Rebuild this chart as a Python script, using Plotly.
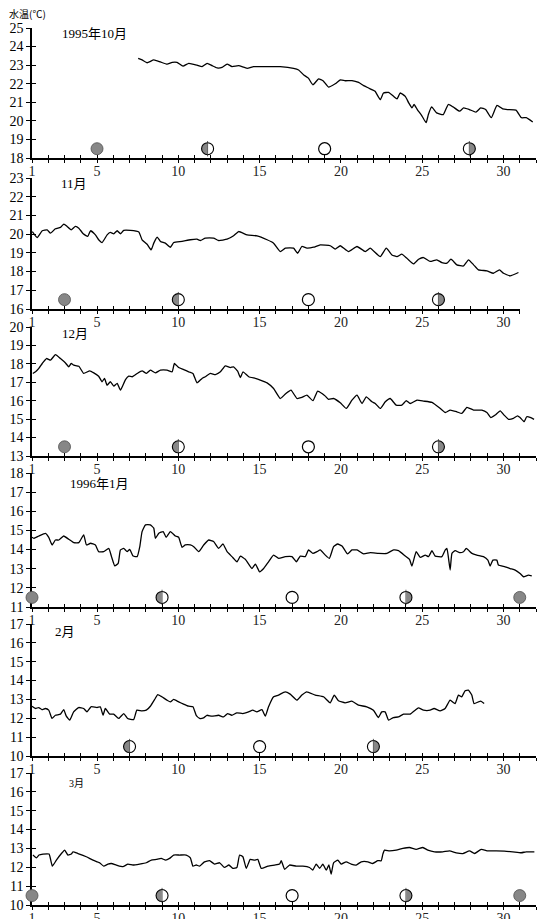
import plotly.graph_objects as go

# ---------------- data ----------------
oct_day = [7.53, 7.77, 8.08, 8.49, 8.9, 9.31, 9.62, 9.92, 10.29, 10.64,
           11.15, 11.46, 11.77, 12.08, 12.38, 12.69, 13.0, 13.3, 13.71, 14.23,
           14.63, 15.25, 16.27, 17.09, 17.4, 17.7, 18.0, 18.28, 18.63, 18.9,
           19.24, 19.65, 19.96, 20.27, 20.68, 21.09, 21.4, 21.7, 21.9, 22.1,
           22.42, 22.62, 22.93, 23.24, 23.45, 23.65, 23.96, 24.17, 24.37, 24.5,
           24.7, 24.99, 25.24, 25.38, 25.58, 25.89, 26.3, 26.6, 26.9, 27.3,
           27.55, 27.9, 28.3, 28.6, 28.9, 29.25, 29.6, 29.95, 30.25, 30.77,
           31.1, 31.4, 31.8]
oct_temp = [23.36, 23.28, 23.13, 23.28, 23.17, 23.05, 23.15, 23.15, 22.95, 23.1,
            23.0, 22.92, 23.1, 22.97, 22.85, 22.88, 23.06, 22.92, 22.97, 22.83,
            22.92, 22.92, 22.92, 22.83, 22.74, 22.48, 22.3, 21.94, 22.26, 22.16,
            21.82, 22.0, 22.2, 22.16, 22.17, 22.07, 21.9, 21.77, 21.68, 21.59,
            21.14, 21.5, 21.53, 21.32, 21.18, 21.5, 21.32, 20.97, 20.7, 20.88,
            20.61, 20.26, 19.9, 20.34, 20.75, 20.43, 20.34, 20.88, 20.75, 20.52,
            20.7, 20.61, 20.47, 20.7, 20.61, 20.17, 20.83, 20.65, 20.61, 20.58,
            20.17, 20.17, 19.94]

nov_day = [1.02, 1.32, 1.63, 1.93, 2.14, 2.44, 2.75, 2.96, 3.16, 3.41,
           3.67, 3.88, 4.15, 4.43, 4.6, 4.9, 5.1, 5.31, 5.62, 5.82,
           6.03, 6.24, 6.44, 6.64, 7.05, 7.57, 7.77, 8.08, 8.33, 8.49,
           8.7, 8.9, 9.2, 9.51, 9.72, 10.23, 10.74, 11.15, 11.36, 11.66,
           12.17, 12.48, 13.0, 13.4, 13.71, 14.23, 14.84, 15.46, 15.86, 16.27,
           16.58, 17.09, 17.34, 17.6, 17.91, 18.32, 18.73, 19.35, 19.65, 19.96,
           20.47, 20.99, 21.5, 21.8, 22.42, 22.79, 23.14, 23.45, 23.75, 24.06,
           24.47, 24.78, 25.08, 25.49, 25.9, 26.21, 26.52, 26.77, 27.13, 27.54,
           27.85, 28.16, 28.46, 28.98, 29.38, 29.75, 30.0, 30.41, 30.92]
nov_temp = [20.14, 19.82, 20.18, 20.23, 20.05, 20.29, 20.36, 20.54, 20.41, 20.23,
            20.41, 20.32, 20.02, 19.88, 20.18, 19.96, 19.7, 19.55, 19.96, 20.09,
            20.02, 20.18, 20.02, 20.2, 20.2, 20.11, 19.7, 19.46, 19.16, 19.52,
            19.84, 19.61, 19.52, 19.3, 19.55, 19.61, 19.7, 19.73, 19.66, 19.79,
            19.79, 19.66, 19.73, 19.91, 20.14, 19.96, 19.91, 19.7, 19.52, 19.07,
            19.25, 19.25, 18.98, 19.34, 19.25, 19.3, 19.43, 19.38, 19.2, 19.38,
            19.07, 19.34, 19.07, 19.25, 18.8, 19.25, 18.89, 18.8, 18.93, 18.71,
            18.41, 18.66, 18.75, 18.54, 18.63, 18.48, 18.45, 18.66, 18.36, 18.3,
            18.63, 18.36, 18.09, 18.04, 17.91, 18.09, 17.91, 17.77, 17.95]

dec_day = [1.05, 1.22, 1.42, 1.63, 1.89, 2.14, 2.44, 2.75, 3.06, 3.26,
           3.41, 3.57, 3.88, 4.18, 4.55, 4.8, 5.1, 5.31, 5.46, 5.62,
           5.82, 6.03, 6.24, 6.44, 6.75, 6.95, 7.16, 7.47, 7.77, 8.04,
           8.28, 8.59, 8.9, 9.31, 9.62, 9.76, 10.02, 10.33, 10.64, 10.9,
           11.15, 11.46, 11.66, 11.97, 12.28, 12.59, 12.89, 13.2, 13.4, 13.65,
           13.82, 13.98, 14.33, 14.74, 15.04, 15.46, 15.86, 16.27, 16.58, 16.93,
           17.3, 17.6, 17.91, 18.28, 18.57, 18.84, 19.04, 19.24, 19.55, 19.96,
           20.33, 20.68, 20.99, 21.3, 21.56, 21.91, 22.11, 22.42, 22.73, 23.03,
           23.4, 23.75, 24.02, 24.26, 24.68, 25.08, 25.6, 26.11, 26.42, 26.72,
           27.13, 27.44, 27.75, 28.16, 28.67, 28.98, 29.22, 29.49, 29.8, 30.04,
           30.31, 30.61, 30.86, 31.02, 31.27, 31.43, 31.68, 31.88]
dec_temp = [17.48, 17.57, 17.75, 18.02, 18.29, 18.2, 18.5, 18.29, 18.05, 17.84,
            18.02, 17.93, 17.87, 17.48, 17.62, 17.51, 17.33, 17.03, 17.21, 16.84,
            17.03, 16.79, 16.94, 16.57, 17.15, 17.33, 17.3, 17.48, 17.62, 17.48,
            17.66, 17.51, 17.66, 17.66, 17.57, 18.02, 17.8, 17.69, 17.57, 17.48,
            16.97, 17.21, 17.3, 17.48, 17.42, 17.57, 17.89, 17.8, 17.84, 17.6,
            17.26, 17.57, 17.3, 17.21, 17.12, 16.97, 16.66, 16.12, 16.36, 16.57,
            16.12, 16.18, 16.3, 16.0, 16.52, 16.39, 16.25, 16.07, 16.12, 15.89,
            15.58, 16.03, 16.3, 15.85, 16.21, 15.94, 15.85, 15.58, 15.94, 16.12,
            15.76, 15.76, 16.0, 15.85, 16.03, 15.98, 15.91, 15.58, 15.36, 15.49,
            15.4, 15.31, 15.64, 15.49, 15.49, 15.36, 15.08, 15.22, 15.45, 15.22,
            14.99, 15.04, 15.18, 15.09, 14.86, 15.13, 15.08, 14.99]

jan_day = [1.0, 1.11, 1.42, 1.83, 2.03, 2.24, 2.44, 2.65, 2.95, 3.26,
           3.57, 3.88, 4.18, 4.35, 4.6, 4.9, 5.1, 5.41, 5.72, 5.89,
           6.09, 6.3, 6.44, 6.64, 6.85, 7.01, 7.22, 7.47, 7.63, 7.77,
           7.98, 8.28, 8.49, 8.59, 8.8, 9.07, 9.25, 9.51, 9.82, 10.02,
           10.23, 10.43, 10.74, 10.95, 11.25, 11.56, 11.87, 12.17, 12.48, 12.75,
           13.0, 13.3, 13.61, 13.82, 14.12, 14.53, 14.74, 15.0, 15.25, 15.55,
           15.86, 16.17, 16.58, 16.99, 17.26, 17.5, 17.81, 18.01, 18.28, 18.53,
           18.73, 19.04, 19.29, 19.55, 19.8, 20.07, 20.41, 20.68, 20.99, 21.4,
           21.8, 22.32, 22.83, 23.24, 23.54, 23.96, 24.22, 24.37, 24.63, 24.88,
           25.19, 25.39, 25.6, 25.8, 26.21, 26.42, 26.52, 26.62, 26.72, 26.83,
           27.03, 27.3, 27.54, 27.71, 28.06, 28.36, 28.77, 29.04, 29.18, 29.35,
           29.59, 29.69, 30.1, 30.41, 30.72, 31.02, 31.23, 31.53, 31.74]
jan_temp = [14.64, 14.59, 14.71, 14.85, 14.64, 14.24, 14.5, 14.5, 14.71, 14.54,
            14.36, 14.36, 14.77, 14.24, 14.33, 14.24, 13.89, 13.89, 14.06, 13.63,
            13.15, 13.28, 13.98, 14.06, 13.89, 14.01, 13.66, 13.63, 14.15, 14.94,
            15.29, 15.29, 15.12, 14.59, 14.85, 14.94, 14.64, 14.94, 14.71, 14.64,
            14.12, 14.24, 14.24, 14.15, 13.89, 14.24, 14.5, 14.42, 14.06, 14.29,
            13.89, 13.63, 13.36, 13.66, 13.49, 13.01, 13.24, 12.84, 13.01, 13.36,
            13.71, 13.54, 13.63, 13.63, 13.36, 13.66, 13.63, 13.98, 13.8, 13.89,
            13.98, 13.71, 13.54, 14.15, 14.29, 14.19, 13.77, 13.98, 13.98, 13.77,
            13.84, 13.8, 13.8, 13.98, 13.94, 13.66, 13.49, 13.14, 13.89, 13.59,
            13.71, 13.63, 13.94, 13.66, 13.63, 13.98, 14.06, 13.54, 12.93, 13.8,
            13.94, 13.84, 13.89, 14.06, 13.8, 13.71, 13.63, 13.45, 13.14, 13.45,
            13.45, 13.19, 13.1, 13.01, 12.93, 12.75, 12.58, 12.66, 12.63]

feb_day = [1.0, 1.21, 1.41, 1.61, 1.82, 2.03, 2.23, 2.44, 2.75, 2.95,
           3.11, 3.32, 3.56, 3.87, 4.18, 4.38, 4.63, 5.0, 5.2, 5.37,
           5.51, 5.78, 6.02, 6.33, 6.64, 6.88, 7.25, 7.45, 7.76, 8.03,
           8.28, 8.58, 8.73, 8.99, 9.3, 9.51, 9.71, 10.02, 10.32, 10.63,
           10.9, 11.1, 11.31, 11.55, 11.76, 12.06, 12.48, 12.78, 13.03, 13.29,
           13.6, 13.97, 14.32, 14.58, 14.83, 15.14, 15.35, 15.55, 15.86, 16.16,
           16.57, 16.88, 17.29, 17.6, 17.9, 18.42, 18.93, 19.34, 19.59, 19.85,
           20.26, 20.67, 21.08, 21.59, 22.0, 22.31, 22.51, 22.72, 22.93, 23.23,
           23.54, 23.85, 24.26, 24.57, 24.77, 25.08, 25.49, 25.73, 26.1, 26.41,
           26.72, 27.02, 27.23, 27.43, 27.64, 27.84, 28.05, 28.19, 28.46, 28.6,
           28.81]
feb_temp = [12.64, 12.52, 12.57, 12.46, 12.52, 12.43, 11.99, 12.16, 12.22, 12.46,
            12.11, 11.9, 12.34, 12.57, 12.52, 12.34, 12.61, 12.57, 12.61, 12.16,
            12.52, 12.22, 12.22, 11.99, 12.25, 11.99, 11.93, 12.43, 12.39, 12.43,
            12.64, 13.05, 13.26, 13.14, 12.96, 12.87, 13.0, 12.87, 12.75, 12.64,
            12.61, 12.16, 11.99, 12.02, 12.16, 12.11, 12.16, 12.07, 12.25, 12.16,
            12.29, 12.25, 12.34, 12.43, 12.34, 12.46, 12.11, 12.61, 13.14, 13.23,
            13.4, 13.28, 12.96, 13.23, 13.4, 13.23, 13.14, 12.82, 13.23, 12.93,
            12.82, 12.91, 12.7, 12.61, 12.43, 12.04, 12.34, 12.34, 11.9, 12.04,
            12.07, 12.22, 12.22, 12.43, 12.55, 12.43, 12.43, 12.52, 12.39, 12.52,
            12.96, 12.78, 13.23, 13.14, 13.46, 13.49, 13.23, 12.78, 12.87, 12.91,
            12.78]

mar_day = [1.06, 1.27, 1.43, 1.68, 2.05, 2.25, 2.5, 2.81, 3.01, 3.21,
           3.42, 3.52, 3.83, 4.34, 4.75, 5.16, 5.41, 5.67, 5.88, 6.19,
           6.59, 6.9, 7.21, 7.62, 8.03, 8.34, 8.65, 8.95, 9.22, 9.46,
           9.71, 10.08, 10.49, 10.74, 10.9, 11.1, 11.31, 11.61, 11.92, 12.23,
           12.54, 12.84, 13.11, 13.35, 13.6, 13.77, 13.97, 14.18, 14.42, 14.69,
           14.89, 15.1, 15.51, 15.92, 16.23, 16.33, 16.54, 16.84, 17.25, 17.66,
           18.07, 18.27, 18.48, 18.69, 18.89, 19.1, 19.26, 19.4, 19.55, 19.81,
           20.02, 20.32, 20.63, 20.94, 21.25, 21.66, 21.96, 22.27, 22.48, 22.58,
           22.68, 22.99, 23.4, 23.81, 24.22, 24.63, 25.04, 25.35, 25.76, 26.27,
           26.68, 27.09, 27.5, 27.91, 28.22, 28.63, 29.04, 29.55, 30.06, 30.57,
           31.09, 31.39, 31.9]
mar_temp = [12.65, 12.5, 12.65, 12.7, 12.7, 12.06, 12.38, 12.73, 12.91, 12.65,
            12.7, 12.82, 12.73, 12.56, 12.38, 12.24, 12.06, 12.17, 12.2, 12.12,
            12.03, 12.17, 12.12, 12.17, 12.24, 12.38, 12.42, 12.47, 12.38, 12.47,
            12.65, 12.65, 12.65, 12.5, 12.06, 12.12, 12.06, 12.29, 12.35, 12.17,
            12.24, 11.99, 12.12, 11.94, 11.99, 12.65, 12.56, 11.94, 12.42, 12.38,
            12.42, 11.94, 12.06, 12.12, 12.17, 12.35, 11.89, 12.12, 12.06, 12.06,
            11.99, 11.85, 12.17, 11.94, 12.17, 11.85, 12.12, 11.64, 12.24, 12.38,
            12.17, 12.29, 12.17, 12.12, 12.29, 12.29, 12.2, 12.35, 12.35, 12.7,
            12.91, 12.87, 12.91, 13.0, 13.05, 12.95, 13.05, 12.91, 12.82, 12.82,
            12.87, 12.77, 12.73, 12.87, 12.73, 12.95, 12.87, 12.87, 12.86, 12.82,
            12.77, 12.82, 12.82]

# moon phases (day of month): new, first quarter, full, last quarter
oct_moon = {"new": [5], "first": [11.8], "full": [19], "last": [27.9]}
nov_moon = {"new": [3], "first": [10], "full": [18], "last": [26]}
dec_moon = {"new": [3], "first": [10], "full": [18], "last": [26]}
jan_moon = {"new": [1, 31], "first": [9], "full": [17], "last": [24]}
feb_moon = {"new": [], "first": [7], "full": [15], "last": [22]}
mar_moon = {"new": [1, 31], "first": [9], "full": [17], "last": [24]}

month_titles = ["1995年10月", "11月", "12月", "1996年1月", "2月", "3月"]
y_low = [18, 16, 13, 11, 10, 10]
days_in_axis = [32, 31, 32, 32, 32, 32]
x_label_vals = [1, 5, 10, 15, 20, 25, 30]

months = [(oct_day, oct_temp, oct_moon), (nov_day, nov_temp, nov_moon),
          (dec_day, dec_temp, dec_moon), (jan_day, jan_temp, jan_moon),
          (feb_day, feb_temp, feb_moon), (mar_day, mar_temp, mar_moon)]

# ---------------- layout geometry ----------------
W, H = 537, 919
ML, MR, MT, MB = 32, 1, 28, 14
PW = W - ML - MR
PH = H - MT - MB
PX_PER_DAY = PW / 31.0
panel_px = [(28, 158), (178, 309), (327, 456), (473, 607), (624, 756), (773, 905)]
title_pos = [(0.056, 0.955, 13), (0.056, 0.96, 13), (0.056, 0.946, 13),
             (0.072, 0.918, 13), (0.042, 0.943, 13), (0.069, 0.924, 10)]

GRAY = "#878787"
MOON_SIZE = 12
SERIF = "Liberation Serif, Noto Sans CJK JP, serif"
TITLE_FONT = "Liberation Serif, Noto Sans CJK JP"

fig = go.Figure()
layout = {}

for i, (days, temps, moon) in enumerate(months):
    k = i + 1
    ko = k + 6
    xs = "x" if k == 1 else f"x{k}"
    ys = "y" if k == 1 else f"y{k}"
    xo, yo = f"x{ko}", f"y{ko}"
    top, bot = panel_px[i]
    dom_y = [1 - (bot - MT) / PH, 1 - (top - MT) / PH]
    xmax = days_in_axis[i]
    dom_x = [0, (xmax - 1) / 31.0]
    lo = y_low[i]
    hi = lo + 7

    # temperature curve
    fig.add_trace(go.Scatter(x=days, y=temps, mode="lines", xaxis=xs, yaxis=ys,
                             line=dict(color="black", width=1.3, shape="spline", smoothing=0.4),
                             showlegend=False, hoverinfo="skip"))

    ym = lo + 0.5
    dx = (MOON_SIZE / 2.0) / PX_PER_DAY
    common = dict(mode="markers", xaxis=xs, yaxis=ys, showlegend=False,
                  hoverinfo="skip", cliponaxis=False)
    # new moons
    fig.add_trace(go.Scatter(x=moon["new"], y=[ym] * len(moon["new"]),
                             marker=dict(symbol="circle", size=MOON_SIZE, color=GRAY,
                                         line=dict(color="#4d4d4d", width=0.8)), **common))
    # quarters: gray disc, white half, black outline
    q = moon["first"] + moon["last"]
    fig.add_trace(go.Scatter(x=q, y=[ym] * len(q),
                             marker=dict(symbol="circle", size=MOON_SIZE, color=GRAY,
                                         line=dict(width=0)), **common))
    half_x = [d + dx for d in moon["first"]] + [d - dx for d in moon["last"]]
    fig.add_trace(go.Scatter(x=half_x, y=[ym] * len(half_x),
                             marker=dict(symbol="square", size=MOON_SIZE + 1, color="white",
                                         line=dict(width=0)), **common))
    fig.add_trace(go.Scatter(x=q, y=[ym] * len(q),
                             marker=dict(symbol="circle-open", size=MOON_SIZE, color="black",
                                         line=dict(color="black", width=1.1)), **common))
    fig.add_trace(go.Scatter(x=q, y=[ym] * len(q),
                             marker=dict(symbol="line-ns", size=MOON_SIZE - 1,
                                         line=dict(color="#333333", width=0.8)), **common))
    # full moons
    fig.add_trace(go.Scatter(x=moon["full"], y=[ym] * len(moon["full"]),
                             marker=dict(symbol="circle", size=MOON_SIZE, color="white",
                                         line=dict(color="black", width=1.2)), **common))

    # invisible trace for the overlay (inside-tick) subplot
    fig.add_trace(go.Scatter(x=[None], y=[None], xaxis=xo, yaxis=yo,
                             showlegend=False, hoverinfo="skip"))

    xtv = list(range(1, xmax + 1))
    xtt = [str(v) if v in x_label_vals else "" for v in xtv]
    ytv = list(range(lo, hi + 1))

    xname = "xaxis" if k == 1 else f"xaxis{k}"
    yname = "yaxis" if k == 1 else f"yaxis{k}"
    layout[xname] = dict(domain=dom_x, range=[1, xmax], anchor=ys, tickmode="array",
                         tickvals=xtv, ticktext=xtt, ticks="outside", ticklen=3,
                         tickwidth=1, tickcolor="black", showline=True, linecolor="black",
                         linewidth=1.5, showgrid=False, zeroline=False, automargin=False,
                         ticklabelstandoff=-4,
                         tickfont=dict(family=SERIF, size=14, color="#222222"),
                         fixedrange=True, layer="below traces")
    layout[yname] = dict(domain=dom_y, range=[lo, hi], anchor=xs, tickmode="array",
                         tickvals=ytv, ticktext=[str(v) for v in ytv], ticks="outside",
                         ticklen=4, tickwidth=1, tickcolor="black", showline=True,
                         linecolor="black", linewidth=1.5, showgrid=False, zeroline=False,
                         automargin=False,
                         tickfont=dict(family=SERIF, size=14, color="black"),
                         fixedrange=True, layer="below traces")
    layout[f"xaxis{ko}"] = dict(domain=dom_x, range=[1, xmax], anchor=yo, tickmode="array",
                                tickvals=xtv, ticks="inside", ticklen=3, tickwidth=1,
                                tickcolor="black", showticklabels=False, showline=False,
                                showgrid=False, zeroline=False, fixedrange=True,
                                automargin=False)
    layout[f"yaxis{ko}"] = dict(domain=dom_y, range=[lo, hi], anchor=xo, tickmode="array",
                                tickvals=ytv, ticks="inside", ticklen=4, tickwidth=1,
                                tickcolor="black", showticklabels=False, showline=False,
                                showgrid=False, zeroline=False, fixedrange=True,
                                automargin=False)

annotations = []
for i, title in enumerate(month_titles):
    k = i + 1
    xs = "x" if k == 1 else f"x{k}"
    ys = "y" if k == 1 else f"y{k}"
    tx, ty, fs = title_pos[i]
    annotations.append(dict(text=title, xref=f"{xs} domain", yref=f"{ys} domain",
                            x=tx, y=ty, xanchor="left", yanchor="middle", showarrow=False,
                            font=dict(family=TITLE_FONT, size=fs, color="black")))
annotations.append(dict(text="水温(℃)", xref="paper", yref="paper",
                        x=(7 - ML) / PW, y=1 + (MT - 14) / PH, xanchor="left",
                        yanchor="middle", showarrow=False,
                        font=dict(family="Noto Sans CJK JP", size=10, color="black")))

fig.update_layout(width=W, height=H, margin=dict(l=ML, r=MR, t=MT, b=MB, autoexpand=False),
                  paper_bgcolor="white", plot_bgcolor="rgba(0,0,0,0)", showlegend=False,
                  annotations=annotations, **layout)

fig.write_html("out.html", config={"displayModeBar": False, "responsive": False},
               post_script="document.body.style.margin='0';"
                           "document.documentElement.style.overflow='hidden';"
                           "document.body.style.overflow='hidden';")
